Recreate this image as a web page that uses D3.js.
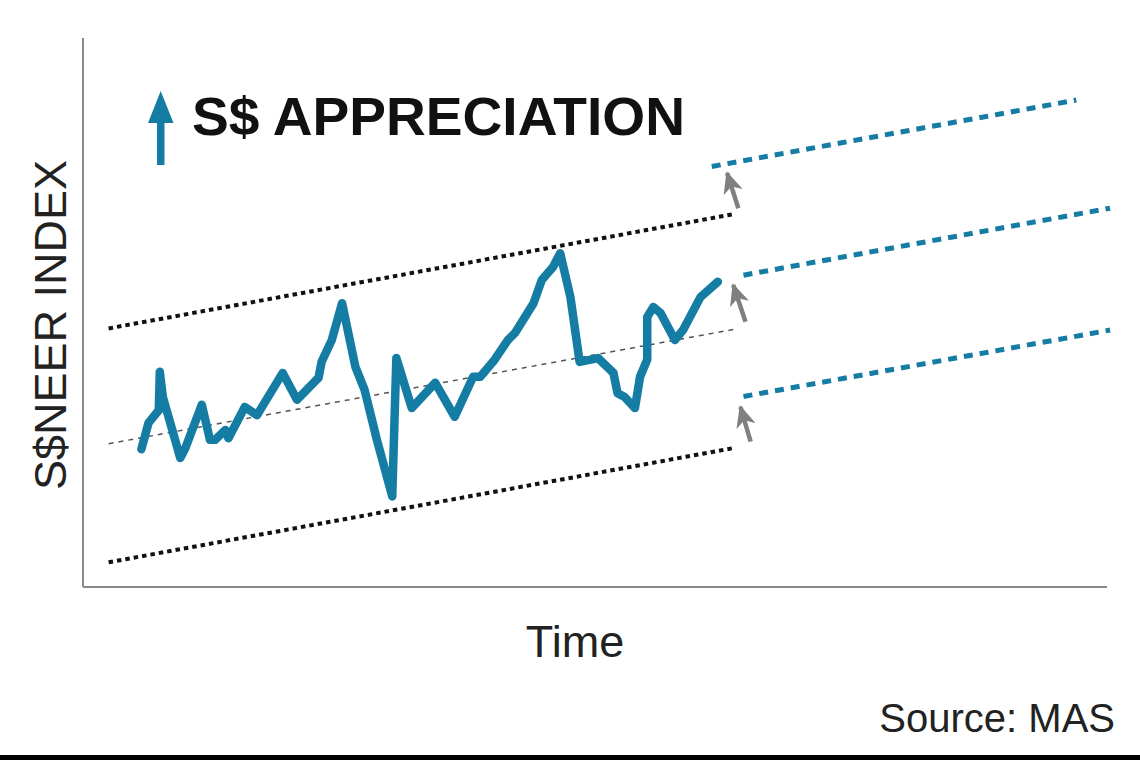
<!DOCTYPE html>
<html>
<head>
<meta charset="utf-8">
<script src="https://cdn.jsdelivr.net/npm/d3@7"></script>
<style>
  html, body { margin: 0; padding: 0; background: #fff; }
  #chart { width: 1140px; height: 760px; }
  text { font-family: "Liberation Sans", Arial, sans-serif; }
</style>
</head>
<body>
<div id="chart"></div>
<script>
// S$NEER path (time, index)
const neerTime = [5.7, 6.4, 7.4, 7.5, 7.8, 9.5, 10.0, 11.6, 12.4, 12.9, 13.9, 14.2, 15.8, 17.0, 19.5, 20.9,
  23.0, 23.3, 24.3, 25.3, 26.6, 27.5, 28.7, 30.2, 30.6, 32.1, 34.4, 36.3, 38.1, 38.8, 40.2, 41.5, 42.2,
  44.0, 44.8, 45.9, 46.6, 47.6, 48.5, 50.3, 51.8, 52.2, 52.9, 53.9, 54.4, 55.1, 55.1, 55.7, 56.4, 57.8,
  58.6, 60.3, 62.0];
const neerValue = [25.1, 29.9, 32.2, 39.2, 34.6, 23.5, 25.3, 33.2, 26.8, 26.8, 28.6, 27.1, 32.8, 31.3, 39.0, 34.1,
  38.1, 41.0, 45.0, 51.7, 40.1, 35.9, 26.8, 16.5, 41.7, 32.6, 37.2, 31.0, 38.3, 38.3, 41.4, 45.0, 46.3,
  51.7, 55.9, 58.3, 60.8, 52.8, 41.0, 41.7, 39.0, 35.3, 34.6, 32.6, 38.3, 41.4, 49.2, 51.0, 49.9, 45.0,
  46.8, 52.8, 55.6];

// current policy band (start, end)
const bandTime = [2.5, 63.5];
const bandUpper = [47.1, 67.9];
const bandMid = [26.1, 46.9];
const bandLower = [4.5, 25.3];

// re-centred band after the shift
const newBandTimeTop = [61.4, 97.0];
const newBandUpper = [76.6, 88.7];
const newBandTime = [64.5, 100.3];
const newBandMid = [56.8, 69.0];
const newBandLower = [34.7, 46.8];

// shift arrows: tail -> tip
const shiftTailTime = [64.0, 64.7, 65.2];
const shiftTailValue = [69.0, 48.3, 26.5];
const shiftTipTime = [62.9, 63.5, 64.2];
const shiftTipValue = [75.4, 55.0, 32.8];

const titleText = 'S$ APPRECIATION';
const yLabel = 'S$NEER INDEX';
const xLabel = 'Time';
const sourceText = 'Source: MAS';

const W = 1140, H = 760;
const margin = { top: 38, right: 33, bottom: 173, left: 83 };
const blue = '#157ca4';

const svg = d3.select('#chart').append('svg')
  .attr('width', W).attr('height', H);

const x = d3.scaleLinear().domain([0, 100]).range([margin.left, W - margin.right]);
const y = d3.scaleLinear().domain([0, 100]).range([H - margin.bottom, margin.top]);

const defs = svg.append('defs');
defs.append('marker')
  .attr('id', 'grayHead')
  .attr('markerUnits', 'userSpaceOnUse')
  .attr('viewBox', '0 0 22 20')
  .attr('refX', 20).attr('refY', 10)
  .attr('markerWidth', 22).attr('markerHeight', 20)
  .attr('orient', 'auto')
  .append('path').attr('d', 'M0,0 L22,10 L0,20 L6,10 Z').attr('fill', '#808080');

// axes (no ticks)
svg.append('line')
  .attr('x1', x(0)).attr('x2', x(0))
  .attr('y1', y(100)).attr('y2', y(0))
  .attr('stroke', '#8a8a8a').attr('stroke-width', 2);
svg.append('line')
  .attr('x1', x(0)).attr('x2', x(100))
  .attr('y1', y(0)).attr('y2', y(0))
  .attr('stroke', '#8a8a8a').attr('stroke-width', 2);

const seg = (t, v) => d3.line()([[x(t[0]), y(v[0])], [x(t[1]), y(v[1])]]);

// old band edges
[bandUpper, bandLower].forEach(v => {
  svg.append('path').attr('d', seg(bandTime, v))
    .attr('fill', 'none').attr('stroke', '#111')
    .attr('stroke-width', 4).attr('stroke-dasharray', '4.5,4');
});
svg.append('path').attr('d', seg(bandTime, bandMid))
  .attr('fill', 'none').attr('stroke', '#555')
  .attr('stroke-width', 1.5).attr('stroke-dasharray', '5,5');

// new band
svg.append('path').attr('d', seg(newBandTimeTop, newBandUpper))
  .attr('fill', 'none').attr('stroke', blue)
  .attr('stroke-width', 5).attr('stroke-dasharray', '9,7');
[newBandMid, newBandLower].forEach(v => {
  svg.append('path').attr('d', seg(newBandTime, v))
    .attr('fill', 'none').attr('stroke', blue)
    .attr('stroke-width', 5).attr('stroke-dasharray', '9,7');
});

// shift arrows
shiftTailTime.forEach((t, i) => {
  svg.append('line')
    .attr('x1', x(t)).attr('y1', y(shiftTailValue[i]))
    .attr('x2', x(shiftTipTime[i])).attr('y2', y(shiftTipValue[i]))
    .attr('stroke', '#808080').attr('stroke-width', 4.5)
    .attr('marker-end', 'url(#grayHead)');
});

// the index line
const line = d3.line()
  .x((d, i) => x(neerTime[i]))
  .y(d => y(d))
  .curve(d3.curveLinear);
svg.append('path')
  .datum(neerValue)
  .attr('d', line)
  .attr('fill', 'none')
  .attr('stroke', blue)
  .attr('stroke-width', 8.5)
  .attr('stroke-linejoin', 'round')
  .attr('stroke-linecap', 'round');

// title with blue arrow
svg.append('rect')
  .attr('x', 157).attr('y', 112).attr('width', 7.5).attr('height', 53)
  .attr('fill', blue);
svg.append('path')
  .attr('d', 'M160.7,91 L173.5,123 L148,123 Z')
  .attr('fill', blue);
svg.append('text')
  .attr('x', 192).attr('y', 135)
  .attr('font-size', 54).attr('font-weight', 'bold')
  .attr('fill', '#111')
  .attr('textLength', 493).attr('lengthAdjust', 'spacingAndGlyphs')
  .text(titleText);

// axis labels
svg.append('text')
  .attr('transform', `translate(66,325) rotate(-90)`)
  .attr('text-anchor', 'middle')
  .attr('font-size', 45).attr('fill', '#222')
  .text(yLabel);
svg.append('text')
  .attr('x', 575).attr('y', 657)
  .attr('text-anchor', 'middle')
  .attr('font-size', 45).attr('fill', '#222')
  .text(xLabel);
svg.append('text')
  .attr('x', 1115).attr('y', 732)
  .attr('text-anchor', 'end')
  .attr('font-size', 40).attr('fill', '#222')
  .text(sourceText);

// bottom rule
svg.append('rect')
  .attr('x', 0).attr('y', 755).attr('width', W).attr('height', 5)
  .attr('fill', '#000');
</script>
</body>
</html>
